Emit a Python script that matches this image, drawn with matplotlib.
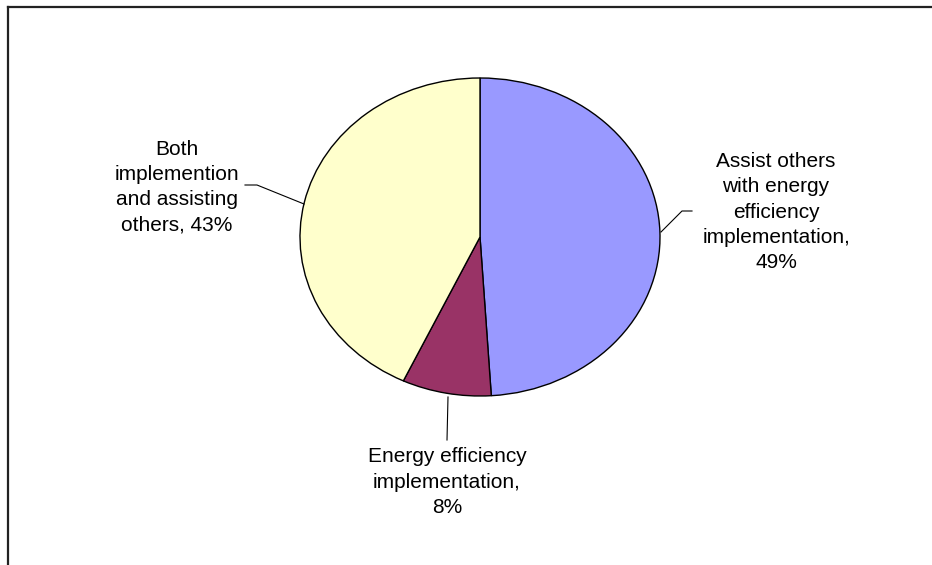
import matplotlib
matplotlib.use("Agg")
import matplotlib.pyplot as plt
from matplotlib.lines import Line2D

plt.rcParams['font.family'] = ['Liberation Sans', 'DejaVu Sans']

# Survey answers
categories = ["Assist others with energy efficiency implementation",
              "Energy efficiency implementation",
              "Both implemention and assisting others"]
shares = [49, 8, 43]
labels = ["Assist others\nwith energy\nefficiency\nimplementation,\n49%",
          "Energy efficiency\nimplementation,\n8%",
          "Both\nimplemention\nand assisting\nothers, 43%"]
colors = ["#9999FF", "#993366", "#FFFFCC"]

W, H = 932, 565
fig = plt.figure(figsize=(W / 100, H / 100), dpi=100)
fig.patch.set_facecolor("white")

# Chart border (left and top edges visible)
fig.add_artist(Line2D([7.5 / W, 7.5 / W], [0, 1 - 6.5 / H], color="#222222", lw=1.6,
                      transform=fig.transFigure))
fig.add_artist(Line2D([7.5 / W, 1.0], [1 - 6.5 / H, 1 - 6.5 / H], color="#222222", lw=1.6,
                      transform=fig.transFigure))

# Pie area: ellipse centred at (480, 237) px, radii 180 x 159 px
cx, cy, rx, ry = 480, 237, 180, 159
ax = fig.add_axes([(cx - rx) / W, 1 - (cy + ry) / H, 2 * rx / W, 2 * ry / H])
ax.pie(shares, colors=colors, startangle=90, counterclock=False, radius=1.0,
       wedgeprops=dict(edgecolor="black", linewidth=1.0))
ax.set_aspect("auto")
ax.set_xlim(-1, 1)
ax.set_ylim(-1, 1)
ax.axis("off")


def px(x, y):
    """Convert pixel coordinates to data coordinates of the pie axes."""
    return (x - cx) / rx, (cy - y) / ry


label_pos = [(776, 212), (447, 482), (177, 187)]
leaders = [
    [(661, 232), (682, 211), (692, 211)],
    [(448, 397), (447, 440)],
    [(304, 204), (257, 185), (245, 185)],
]

for text, (lx, ly), pts in zip(labels, label_pos, leaders):
    tx, ty = px(lx, ly)
    ax.text(tx, ty, text, ha="center", va="center", fontsize=15,
            linespacing=1.42, color="black", clip_on=False)
    xs, ys = zip(*[px(x, y) for x, y in pts])
    ax.plot(xs, ys, color="black", lw=0.8, clip_on=False)

fig.savefig("out.png", dpi=100)
